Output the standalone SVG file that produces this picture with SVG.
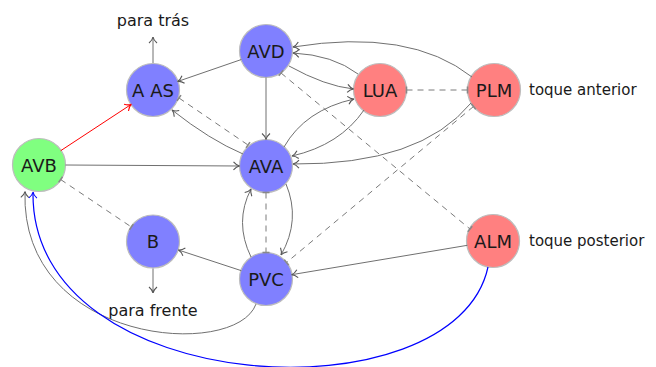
<svg xmlns="http://www.w3.org/2000/svg" width="656" height="367" viewBox="0 0 656 367">
  <defs>
    <style>
      .n circle { stroke: #bdbdbd; stroke-width: 1.2; }
      .blue { fill: #8080ff; }
      .red { fill: #ff8080; }
      .green { fill: #80ff80; }
      .n text { font-family: "DejaVu Sans", sans-serif; font-size: 18px; fill: #1a1a1a; text-anchor: middle; dominant-baseline: central; }
      .lbl { font-family: "DejaVu Sans", sans-serif; fill: #1a1a1a; }
      .e { fill: none; stroke: #707070; stroke-width: 1; }
      .ex { marker-end: url(#arr); }
      .gj { fill: none; stroke: #7a7a7a; stroke-width: 1; stroke-dasharray: 6 5; marker-start: url(#bar); marker-end: url(#bar); }
    </style>
    <!-- open curved arrow tip, gray -->
    <marker id="arr" viewBox="-8 -5 10 10" refX="0" refY="0" markerWidth="10" markerHeight="10" markerUnits="userSpaceOnUse" orient="auto">
      <path d="M-6,-4 C-4,-1.6 -1.6,-0.3 0,0 C-1.6,0.3 -4,1.6 -6,4" fill="none" stroke="#555" stroke-width="1.1"/>
    </marker>
    <marker id="arrR" viewBox="-8 -5 10 10" refX="0" refY="0" markerWidth="10" markerHeight="10" markerUnits="userSpaceOnUse" orient="auto">
      <path d="M-6,-4 C-4,-1.6 -1.6,-0.3 0,0 C-1.6,0.3 -4,1.6 -6,4" fill="none" stroke="#ff0000" stroke-width="1.1"/>
    </marker>
    <marker id="arrB" viewBox="-8 -5 10 10" refX="0" refY="0" markerWidth="10" markerHeight="10" markerUnits="userSpaceOnUse" orient="auto">
      <path d="M-6,-4 C-4,-1.6 -1.6,-0.3 0,0 C-1.6,0.3 -4,1.6 -6,4" fill="none" stroke="#0000ff" stroke-width="1.1"/>
    </marker>
    <!-- bar ending for gap junctions -->
    <marker id="bar" viewBox="-2 -5 4 10" refX="0" refY="0" markerWidth="4" markerHeight="10" markerUnits="userSpaceOnUse" orient="auto">
      <line x1="0" y1="-3.5" x2="0" y2="3.5" stroke="#888" stroke-width="1.6"/>
    </marker>
  </defs>

  <rect width="656" height="367" fill="#ffffff"/>

  <g id="nodes">
    <g id="AVD" class="n"><circle class="blue" cx="266" cy="51" r="26.5"/><text x="266" y="51">AVD</text></g>
    <g id="AAS" class="n"><circle class="blue" cx="153" cy="90" r="26.5"/><text x="153" y="90">A AS</text></g>
    <g id="LUA" class="n"><circle class="red" cx="380" cy="90" r="26.5"/><text x="380" y="90">LUA</text></g>
    <g id="PLM" class="n"><circle class="red" cx="494" cy="90" r="26.5"/><text x="494" y="90">PLM</text></g>
    <g id="AVB" class="n"><circle class="green" cx="39" cy="165" r="26.5"/><text x="39" y="165">AVB</text></g>
    <g id="AVA" class="n"><circle class="blue" cx="266" cy="166" r="26.5"/><text x="266" y="166">AVA</text></g>
    <g id="B" class="n"><circle class="blue" cx="153" cy="241.5" r="26.5"/><text x="153" y="241.5">B</text></g>
    <g id="PVC" class="n"><circle class="blue" cx="266" cy="279" r="26.5"/><text x="266" y="279">PVC</text></g>
    <g id="ALM" class="n"><circle class="red" cx="493" cy="241" r="26.5"/><text x="493" y="241">ALM</text></g>
  </g>

  <g id="labels">
    <text class="lbl" x="153" y="26" font-size="16" text-anchor="middle">para trás</text>
    <text class="lbl" x="153" y="316" font-size="16" text-anchor="middle">para frente</text>
    <text class="lbl" x="529" y="95" font-size="15">toque anterior</text>
    <text class="lbl" x="529" y="246" font-size="15">toque posterior</text>
  </g>

  <g id="connectors">
    <!-- chemical synapses -->
    <path class="e ex" d="M241.4,59.5 L177.6,81.5"/>
    <path class="e ex" d="M266,77.5 L266,139.5"/>
    <path class="e ex" d="M65.5,165 L239.5,166"/>
    <path class="e" stroke="#ff0000" style="stroke:#ff0000;marker-end:url(#arrR)" d="M60.7,150.7 L131.3,104.3"/>
    <path class="e ex" d="M289,66 Q325,86 353.5,89"/>
    <path class="e ex" d="M358,74 Q333,55 293,53"/>
    <path class="e ex" d="M472,77 Q410,28 293,47"/>
    <path class="e ex" d="M284,147 Q305,110 354,99"/>
    <path class="e ex" d="M364,110 Q340,145 292,156"/>
    <path class="e ex" d="M471,103 Q420,165 293,164"/>
    <path class="e ex" d="M243,154 Q210,140 172,110"/>
    <path class="e ex" d="M286,184 Q301,220 281,255"/>
    <path class="e ex" d="M251,257 Q234,222 251,189"/>
    <path class="e ex" d="M241.4,270.7 L178.4,250"/>
    <path class="e ex" d="M467.4,245.3 L291.6,274.7"/>
    <path class="e ex" d="M256,304 C236,360 20,345 25,191.5"/>
    <path class="e" style="stroke:#0000ff;stroke-width:1.2;marker-end:url(#arrB)" d="M488,267 C455,420 30,400 33,192"/>
    <!-- motor outputs -->
    <path class="e ex" d="M153,63 L153,37"/>
    <path class="e ex" d="M153,268.5 L153,293"/>
    <!-- gap junctions -->
    <path class="gj" d="M179,98 L248,145"/>
    <path class="gj" d="M281,73 L470,229"/>
    <path class="gj" d="M406.5,90 L467.5,90"/>
    <path class="gj" d="M473.5,106.5 L286.5,262.5"/>
    <path class="gj" d="M266,192.5 L266,252.5"/>
    <path class="gj" d="M60.6,179.5 L131.4,227"/>
  </g>
</svg>
